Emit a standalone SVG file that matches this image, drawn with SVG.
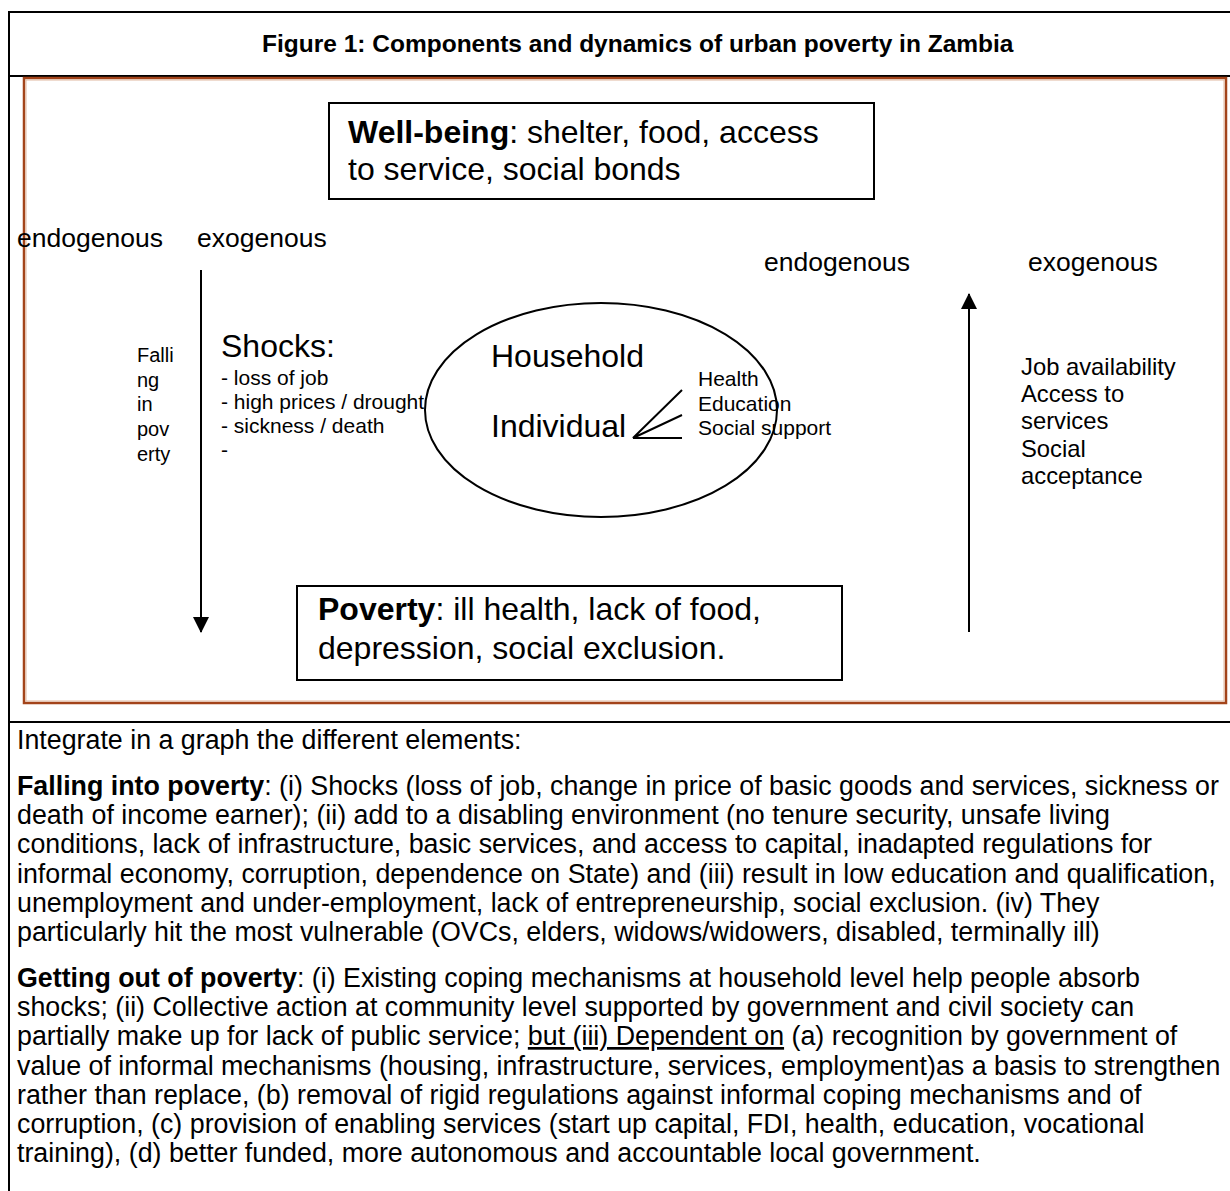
<svg xmlns="http://www.w3.org/2000/svg" width="1230" height="1191" viewBox="0 0 1230 1191">
<style>
text{font-family:"Liberation Sans",Arial,sans-serif;fill:#000}
.b{font-weight:bold}
.big{font-size:32px}
.mid{font-size:26.5px}
.sm{font-size:21px}
.body{font-size:26.8px}
.box{fill:#fff;stroke:#000;stroke-width:2}
.ln{stroke:#000;stroke-width:2;fill:none}
</style>
<defs>
<marker id="ah" markerWidth="16" markerHeight="16" refX="15" refY="8" orient="auto" markerUnits="userSpaceOnUse">
<path d="M0,0 L16,8 L0,16 Z" fill="#000"/>
</marker>
</defs>
<rect width="1230" height="1191" fill="#fff"/>
<g id="frame">
<path d="M9,1191 V12 H1232" class="ln" stroke-width="2.5"/>
<line x1="9" y1="76" x2="1232" y2="76" class="ln" stroke-width="2.5"/>
<line x1="9" y1="722" x2="1232" y2="722" class="ln" stroke-width="2.5"/>
<rect x="24" y="78" width="1202" height="625" fill="none" stroke="#a3441a" stroke-width="2.5"/>
<rect x="26" y="80" width="1198" height="621" fill="none" stroke="#e0b8a0" stroke-width="1"/>
</g>
<g id="title">
<text x="262" y="52" class="b" font-size="24.5px">Figure 1: Components and dynamics of urban poverty in Zambia</text>
</g>
<g id="connectors">
<line x1="201" y1="270" x2="201" y2="632" class="ln" marker-end="url(#ah)"/>
<line x1="969" y1="632" x2="969" y2="294" class="ln" marker-end="url(#ah)"/>
<path d="M682,390 L633,438 L682,415 M633,438 L682,438" class="ln"/>
</g>
<g id="wellbeing">
<rect x="329" y="103" width="545" height="96" class="box"/>
<text x="348" y="143" class="big"><tspan class="b">Well-being</tspan>: shelter, food, access</text>
<text x="348" y="180" class="big">to service, social bonds</text>
</g>
<g id="poverty">
<rect x="297" y="586" width="545" height="94" class="box"/>
<text x="318" y="620" class="big"><tspan class="b">Poverty</tspan>: ill health, lack of food,</text>
<text x="318" y="659" class="big">depression, social exclusion.</text>
</g>
<g id="household">
<ellipse cx="601" cy="410" rx="176" ry="107" class="ln"/>
<text x="491" y="367" class="big">Household</text>
<text x="491" y="437" class="big">Individual</text>
<text x="698" y="386" class="sm">Health</text>
<text x="698" y="411" class="sm">Education</text>
<text x="698" y="435" class="sm">Social support</text>
</g>
<g id="labels-left">
<text x="17" y="247" class="mid">endogenous</text>
<text x="197" y="247" class="mid">exogenous</text>
<text x="137" y="362" font-size="20px">Falli</text>
<text x="137" y="387" font-size="20px">ng</text>
<text x="137" y="411" font-size="20px">in</text>
<text x="137" y="436" font-size="20px">pov</text>
<text x="137" y="461" font-size="20px">erty</text>
</g>
<g id="shocks">
<text x="221" y="357" class="big">Shocks:</text>
<text x="221" y="385" class="sm">- loss of job</text>
<text x="221" y="409" class="sm">- high prices / drought</text>
<text x="221" y="433" class="sm">- sickness / death</text>
<text x="221" y="457" class="sm">-</text>
</g>
<g id="labels-right">
<text x="764" y="271" class="mid">endogenous</text>
<text x="1028" y="271" class="mid">exogenous</text>
<text x="1021" y="375" font-size="23.8px">Job availability</text>
<text x="1021" y="402" font-size="23.8px">Access to</text>
<text x="1021" y="429" font-size="23.8px">services</text>
<text x="1021" y="457" font-size="23.8px">Social</text>
<text x="1021" y="484" font-size="23.8px">acceptance</text>
</g>
<g id="notes">
<text x="17" y="749" class="body">Integrate in a graph the different elements:</text>
<text x="17" y="795" class="body"><tspan class="b">Falling into poverty</tspan>: (i) Shocks (loss of job, change in price of basic goods and services, sickness or</text>
<text x="17" y="824" class="body">death of income earner); (ii) add to a disabling environment (no tenure security, unsafe living</text>
<text x="17" y="853" class="body">conditions, lack of infrastructure, basic services, and access to capital, inadapted regulations for</text>
<text x="17" y="883" class="body">informal economy, corruption, dependence on State) and (iii) result in low education and qualification,</text>
<text x="17" y="912" class="body">unemployment and under-employment, lack of entrepreneurship, social exclusion. (iv) They</text>
<text x="17" y="941" class="body">particularly hit the most vulnerable (OVCs, elders, widows/widowers, disabled, terminally ill)</text>
<text x="17" y="987" class="body"><tspan class="b">Getting out of poverty</tspan>: (i) Existing coping mechanisms at household level help people absorb</text>
<text x="17" y="1016" class="body">shocks; (ii) Collective action at community level supported by government and civil society can</text>
<text x="17" y="1045" class="body">partially make up for lack of public service; <tspan text-decoration="underline">but (iii) Dependent on</tspan> (a) recognition by government of</text>
<text x="17" y="1075" class="body">value of informal mechanisms (housing, infrastructure, services, employment)as a basis to strengthen</text>
<text x="17" y="1104" class="body">rather than replace, (b) removal of rigid regulations against informal coping mechanisms and of</text>
<text x="17" y="1133" class="body">corruption, (c) provision of enabling services (start up capital, FDI, health, education, vocational</text>
<text x="17" y="1162" class="body">training), (d) better funded, more autonomous and accountable local government.</text>
</g>
</svg>
